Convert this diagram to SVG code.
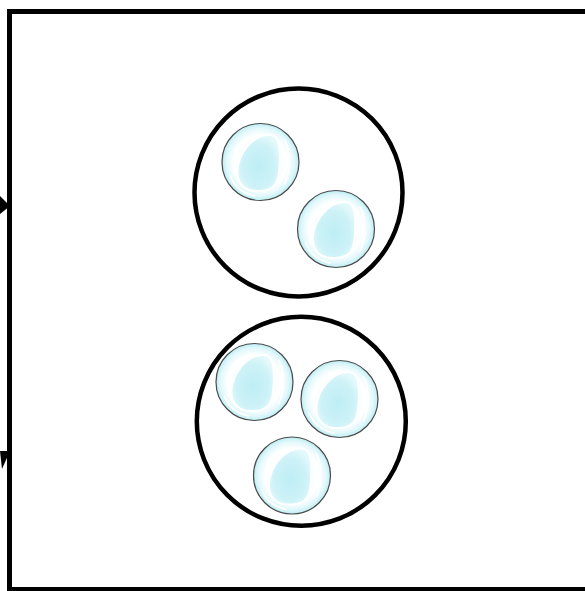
<svg xmlns="http://www.w3.org/2000/svg" xmlns:xlink="http://www.w3.org/1999/xlink" width="585" height="591" viewBox="0 0 585 591">
<style>
.frame{fill:none;stroke:#000;stroke-width:5}
.cell{fill:#fff;stroke:#000;stroke-width:4.5}
.rim{fill:url(#rimGrad);stroke:#4a4a4a;stroke-width:1.2}
.blob{fill:url(#blobGrad);stroke:#fff;stroke-width:2}
.shine{fill:none;stroke:#fff;stroke-width:1.6;stroke-linecap:round}
.head{fill:#000}
</style>
<defs>
<radialGradient id="rimGrad" cx="0.5" cy="0.5" r="0.5">
<stop offset="0" stop-color="#e9fbfd"/>
<stop offset="0.7" stop-color="#ffffff"/>
<stop offset="0.88" stop-color="#e2f8fb"/>
<stop offset="1" stop-color="#bdeef4"/>
</radialGradient>
<radialGradient id="blobGrad" cx="0.5" cy="0.55" r="0.55">
<stop offset="0" stop-color="#bdeef5"/>
<stop offset="0.7" stop-color="#cdf2f7"/>
<stop offset="1" stop-color="#e3f9fb"/>
</radialGradient>
<g id="bubble">
<circle class="rim" r="38.5"/>
<path class="blob" d="M10,-27 C20,-26 20,-10 19,5 C18,20 15,28 0,29 C-15,30 -24,22 -23,8 C-22,-8 -8,-28 10,-27 Z"/>
<path class="shine" d="M24,-22 C30,-12 31,8 24,22"/>
<path class="shine" d="M-30,14 C-27,24 -18,31 -6,34"/>
</g>
</defs>
<rect id="frame" class="frame" x="9.5" y="11.5" width="585" height="578"/>
<g id="connectors">
<polygon class="head" points="0,196 10,206 0,214"/>
<polygon class="head" points="0,451 10,451 2,469"/>
</g>
<g id="cell-top">
<circle class="cell" cx="298.5" cy="192.5" r="104"/>
<use xlink:href="#bubble" x="260.5" y="162"/>
<use xlink:href="#bubble" x="336" y="229"/>
</g>
<g id="cell-bottom">
<circle class="cell" cx="301.3" cy="421.3" r="104.5"/>
<use xlink:href="#bubble" x="254.5" y="382"/>
<use xlink:href="#bubble" x="339.5" y="399"/>
<use xlink:href="#bubble" x="292" y="475.5"/>
</g>
</svg>
